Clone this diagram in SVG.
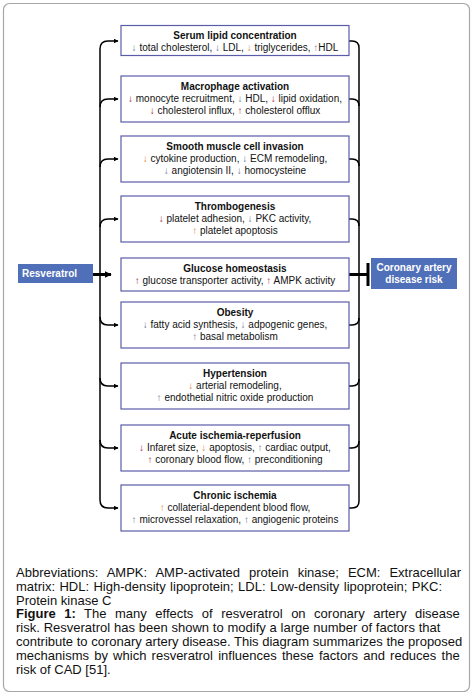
<svg xmlns="http://www.w3.org/2000/svg" width="476" height="696" viewBox="0 0 476 696">
<defs>
<marker id="ah" viewBox="0 0 10 10" refX="9" refY="5" markerWidth="5" markerHeight="5" orient="auto" markerUnits="userSpaceOnUse"><path d="M0,0 L10,5 L0,10 z" fill="#000"/></marker>
<marker id="ahb" viewBox="0 0 10 10" refX="9" refY="5" markerWidth="7" markerHeight="7" orient="auto" markerUnits="userSpaceOnUse"><path d="M0,0 L10,5 L0,10 z" fill="#000"/></marker>
</defs>
<style>
.box{fill:#fff;stroke:#5a5ca8;stroke-width:1.2}
.blue{fill:#4f70b9}
.t{font-family:"Liberation Sans",Arial,sans-serif;font-size:10px;text-anchor:middle;fill:#111}
.b{font-weight:bold}
.w{font-family:"Liberation Sans",Arial,sans-serif;font-size:10px;font-weight:bold;fill:#fff}
.c{font-family:"Liberation Sans",Arial,sans-serif;font-size:13px;fill:#111}
.ln{fill:none;stroke:#000;stroke-width:1.5}
.r{fill:#a3203c}.o{fill:#d9893a}.g{fill:#6a7896}
</style>
<rect x="3.5" y="3.5" width="466" height="688" rx="6" fill="#fff" stroke="#a8a8a8" stroke-width="1.2"/>
<g id="connectors">
<path class="ln" d="M100,274 V49 Q100,41 108,41 H118" marker-end="url(#ah)"/>
<path class="ln" d="M100,107 Q100,99 108,99 H118" marker-end="url(#ah)"/>
<path class="ln" d="M100,167 Q100,159 108,159 H118" marker-end="url(#ah)"/>
<path class="ln" d="M100,227 Q100,219 108,219 H118" marker-end="url(#ah)"/>
<path class="ln" d="M100,274 V500 Q100,508 108,508 H118" marker-end="url(#ah)"/>
<path class="ln" d="M100,317 Q100,325 108,325 H118" marker-end="url(#ah)"/>
<path class="ln" d="M100,378 Q100,386 108,386 H118" marker-end="url(#ah)"/>
<path class="ln" d="M100,440 Q100,448 108,448 H118" marker-end="url(#ah)"/>
<path class="ln" d="M349,41 H352 Q359,41 359,48 V501 Q359,508 352,508 H349"/>
<path class="ln" d="M349,99 H352 Q359,99 359,106"/>
<path class="ln" d="M349,159 H352 Q359,159 359,166"/>
<path class="ln" d="M349,219 H352 Q359,219 359,226"/>
<path class="ln" d="M349,325 H352 Q359,325 359,318"/>
<path class="ln" d="M349,386 H352 Q359,386 359,379"/>
<path class="ln" d="M349,448 H352 Q359,448 359,441"/>
<path fill="none" stroke="#000" stroke-width="3" d="M93,274.5 H111" marker-end="url(#ahb)"/>
<path fill="none" stroke="#000" stroke-width="3" d="M349,274.5 H368 M368,263 V286"/>
</g>
<g id="resveratrol"><rect class="blue" x="18" y="264" width="75" height="19"/><text class="w" x="22" y="277">Resveratrol</text></g>
<g id="cad"><rect class="blue" x="371" y="258" width="86" height="31"/><text class="w" text-anchor="middle" x="414" y="271">Coronary artery</text><text class="w" text-anchor="middle" x="414" y="282.5">disease risk</text></g>
<g id="serum"><rect class="box" x="121" y="25.5" width="228" height="30"/>
<text class="t b" x="235" y="38.5">Serum lipid concentration</text>
<text class="t" x="235" y="50.5"><tspan class="g">↓</tspan> total cholesterol, <tspan class="g">↓</tspan> LDL, <tspan class="o">↓</tspan> triglycerides, <tspan class="g">↑</tspan>HDL</text></g>
<g id="macrophage"><rect class="box" x="121" y="76" width="228" height="46"/>
<text class="t b" x="235" y="90">Macrophage activation</text>
<text class="t" x="235" y="102"><tspan class="r">↓</tspan> monocyte recruitment, <tspan class="g">↓</tspan> HDL, <tspan class="r">↓</tspan> lipid oxidation,</text>
<text class="t" x="235" y="114"><tspan class="r">↓</tspan> cholesterol influx, <tspan class="r">↑</tspan> cholesterol offlux</text></g>
<g id="smooth"><rect class="box" x="121" y="136" width="228" height="46"/>
<text class="t b" x="235" y="149.5">Smooth muscle cell invasion</text>
<text class="t" x="235" y="161.5"><tspan class="o">↓</tspan> cytokine production, <tspan class="g">↓</tspan> ECM remodeling,</text>
<text class="t" x="235" y="173.5"><tspan class="g">↓</tspan> angiotensin II,  <tspan class="g">↓</tspan> homocysteine</text></g>
<g id="thrombo"><rect class="box" x="121" y="196" width="228" height="46"/>
<text class="t b" x="235" y="210">Thrombogenesis</text>
<text class="t" x="235" y="222"><tspan class="r">↓</tspan> platelet adhesion, <tspan class="g">↓</tspan> PKC activity,</text>
<text class="t" x="235" y="234"><tspan class="o">↑</tspan> platelet apoptosis</text></g>
<g id="glucose"><rect class="box" x="121" y="258" width="228" height="33"/>
<text class="t b" x="235" y="271.5">Glucose homeostasis</text>
<text class="t" x="235" y="283.5"><tspan class="r">↑</tspan> glucose transporter activity, <tspan class="r">↑</tspan> AMPK activity</text></g>
<g id="obesity"><rect class="box" x="121" y="302" width="228" height="46"/>
<text class="t b" x="235" y="316">Obesity</text>
<text class="t" x="235" y="328"><tspan class="g">↓</tspan> fatty acid synthesis, <tspan class="g">↓</tspan> adpogenic genes,</text>
<text class="t" x="235" y="340"><tspan class="g">↑</tspan> basal metabolism</text></g>
<g id="hypertension"><rect class="box" x="121" y="363" width="228" height="46"/>
<text class="t b" x="235" y="377">Hypertension</text>
<text class="t" x="235" y="389"><tspan class="o">↓</tspan> arterial remodeling,</text>
<text class="t" x="235" y="401"><tspan class="g">↑</tspan> endothetial nitric oxide production</text></g>
<g id="acute"><rect class="box" x="121" y="425" width="228" height="46"/>
<text class="t b" x="235" y="439">Acute ischemia-reperfusion</text>
<text class="t" x="235" y="451"><tspan class="r">↓</tspan> Infaret size, <tspan class="o">↓</tspan> apoptosis, <tspan class="g">↑</tspan> cardiac output,</text>
<text class="t" x="235" y="463"><tspan class="r">↑</tspan> coronary blood flow, <tspan class="g">↑</tspan> preconditioning</text></g>
<g id="chronic"><rect class="box" x="121" y="485" width="228" height="46"/>
<text class="t b" x="235" y="499">Chronic ischemia</text>
<text class="t" x="235" y="511"><tspan class="o">↑</tspan> collaterial-dependent blood flow,</text>
<text class="t" x="235" y="523"><tspan class="g">↑</tspan> microvessel relaxation, <tspan class="g">↑</tspan> angiogenic proteins</text></g>
<g id="caption">
<text class="c" x="16" y="577" word-spacing="5.4">Abbreviations: AMPK: AMP-activated protein kinase; ECM: Extracellular</text>
<text class="c" x="16" y="591" word-spacing="0.8">matrix: HDL: High-density lipoprotein; LDL: Low-density lipoprotein; PKC:</text>
<text class="c" x="16" y="604.5">Protein kinase C</text>
<text class="c" x="16" y="618" word-spacing="4.9"><tspan font-weight="bold">Figure 1:</tspan> The many effects of resveratrol on coronary artery disease</text>
<text class="c" x="16" y="632" word-spacing="0.2">risk. Resveratrol has been shown to modify a large number of factors that</text>
<text class="c" x="16" y="646">contribute to coronary artery disease. This diagram summarizes the proposed</text>
<text class="c" x="16" y="660" word-spacing="1.6">mechanisms by which resveratrol influences these factors and reduces the</text>
<text class="c" x="16" y="674">risk of CAD [51].</text>
</g>
</svg>
